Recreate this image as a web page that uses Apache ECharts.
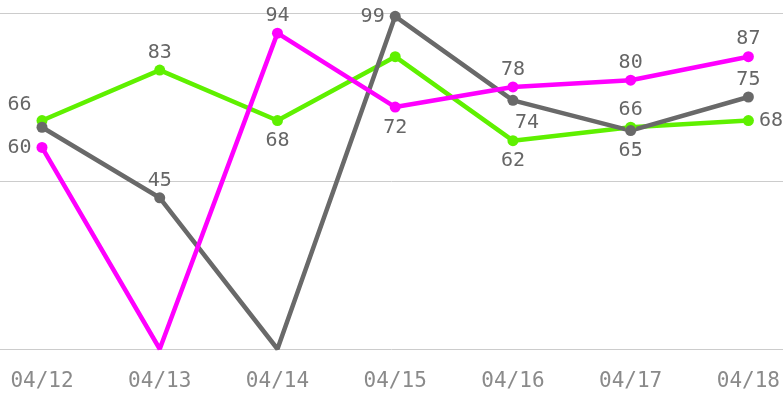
<!DOCTYPE html>
<html>
<head>
<meta charset="utf-8">
<script src="https://cdn.jsdelivr.net/npm/echarts@6/dist/echarts.min.js"></script>
<style>
  html, body { margin: 0; padding: 0; background: #fff; }
  #chart { width: 783px; height: 399px; }
</style>
</head>
<body>
<div id="chart"></div>
<script>
const dates = ['04/12', '04/13', '04/14', '04/15', '04/16', '04/17', '04/18']
const magentaValues = [60, 0, 94, 72, 78, 80, 87]
const grayValues = [66, 45, 0, 99, 74, 65, 75]
const greenValues = [68, 83, 68, 87, 62, 66, 68]

// where each point's value label sits (null = no label)
const magentaLabels = ['left', null, 'top', 'bottom', 'top', 'top', 'top']
const grayLabels = ['topLeft', 'top', null, 'left', 'bottomRight', 'bottom', 'top']
const greenLabels = [null, 'top', 'bottom', null, 'bottom', 'top', 'right']

const labelFont = 'DejaVu Sans Mono'

function buildData(values, places) {
  return values.map((v, i) => {
    const p = places[i]
    const item = { value: v }
    if (!p) {
      item.label = { show: false }
    } else if (p === 'topLeft') {
      item.label = { position: 'left', offset: [0, -22] }
    } else if (p === 'bottomRight') {
      item.label = { position: 'bottom', offset: [14, 2] }
    } else if (p === 'top') {
      item.label = { position: 'top', distance: 2 }
    } else {
      item.label = { position: p }
    }
    if (v === 0) item.symbolSize = 0
    return item
  })
}

function makeSeries(name, color, values, places) {
  return {
    name: name,
    type: 'line',
    xAxisIndex: 1,
    yAxisIndex: 1,
    data: buildData(values, places),
    symbol: 'circle',
    symbolSize: 11,
    lineStyle: { width: 4.5, color: color },
    itemStyle: { color: color },
    label: {
      show: true,
      color: '#666',
      fontFamily: labelFont,
      fontSize: 20,
      distance: 5
    },
    emphasis: { disabled: true }
  }
}

const chart = echarts.init(document.getElementById('chart'))
chart.setOption({
  animation: false,
  // grid 0 only carries the full-width split lines, grid 1 holds the data
  grid: [
    { left: 0, right: 0, top: 13, bottom: 50 },
    { left: 42, right: 33, top: 13, bottom: 50 }
  ],
  xAxis: [
    { type: 'value', gridIndex: 0, show: false },
    {
      type: 'category',
      gridIndex: 1,
      data: dates,
      boundaryGap: false,
      axisLine: { show: false },
      axisTick: { show: false },
      splitLine: { show: false },
      axisLabel: {
        color: '#8a8a8a',
        fontFamily: labelFont,
        fontSize: 21,
        margin: 22
      }
    }
  ],
  yAxis: [
    {
      type: 'value',
      gridIndex: 0,
      min: 0,
      max: 100,
      interval: 50,
      axisLabel: { show: false },
      axisLine: { show: false },
      axisTick: { show: false },
      splitLine: { lineStyle: { color: '#ccc', width: 1 } }
    },
    {
      type: 'value',
      gridIndex: 1,
      min: 0,
      max: 100,
      interval: 50,
      axisLabel: { show: false },
      axisLine: { show: false },
      axisTick: { show: false },
      splitLine: { show: false }
    }
  ],
  series: [
    makeSeries('green', '#5ff000', greenValues, greenLabels),
    makeSeries('gray', '#696969', grayValues, grayLabels),
    makeSeries('magenta', '#ff00ff', magentaValues, magentaLabels)
  ]
})
</script>
</body>
</html>
